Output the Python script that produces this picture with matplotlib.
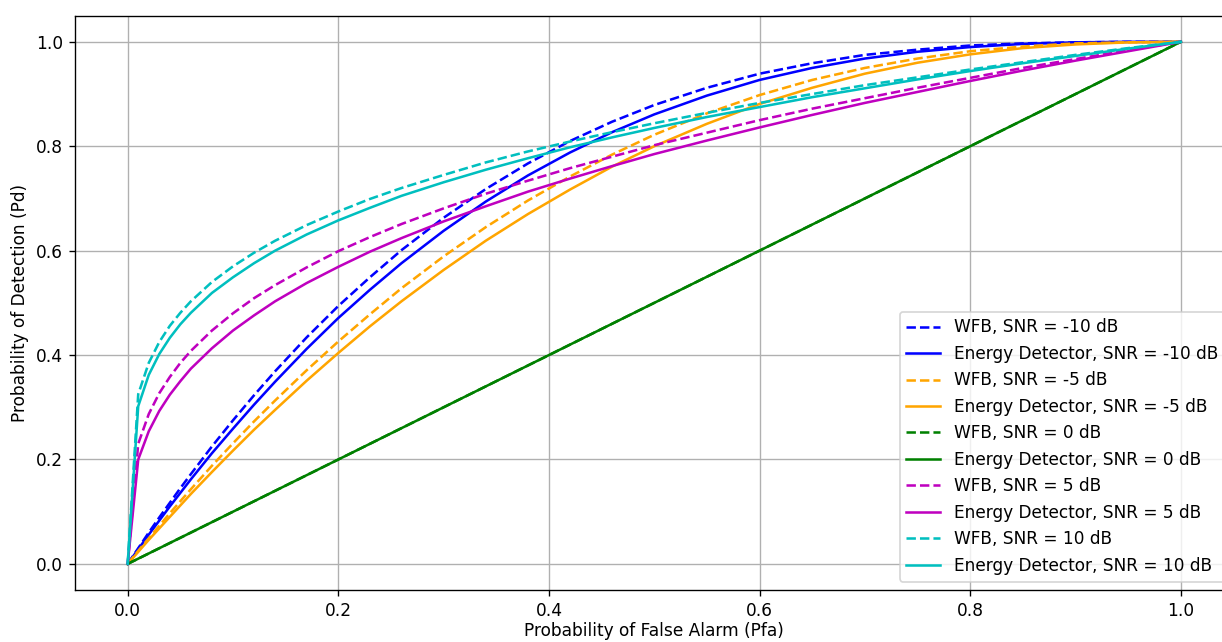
import matplotlib
matplotlib.use("Agg")
import matplotlib.pyplot as plt

# Probability of false alarm grid (x axis)
pfa = [0.0, 0.01, 0.02, 0.03, 0.04, 0.05, 0.06, 0.08, 0.10, 0.12, 0.14, 0.17, 0.20,
       0.23, 0.26, 0.30, 0.34, 0.38, 0.42, 0.46, 0.50, 0.55, 0.60, 0.65, 0.70,
       0.75, 0.80, 0.85, 0.90, 0.95, 1.0]

snr_labels = ["-10", "-5", "0", "5", "10"]
colors = ["blue", "orange", "green", "m", "c"]

# WFB detector, Pd per SNR
wfb_m10 = [0.0, 0.030, 0.060, 0.089, 0.117, 0.145, 0.172, 0.225, 0.275, 0.323, 0.369, 0.434, 0.494,
           0.549, 0.601, 0.663, 0.718, 0.767, 0.810, 0.847, 0.879, 0.912, 0.939, 0.959, 0.975,
           0.985, 0.993, 0.997, 0.999, 1.0, 1.0]
wfb_m5 = [0.0, 0.025, 0.049, 0.073, 0.097, 0.120, 0.143, 0.188, 0.231, 0.273, 0.313, 0.371, 0.426,
          0.478, 0.528, 0.589, 0.645, 0.696, 0.742, 0.784, 0.822, 0.863, 0.898, 0.927, 0.950,
          0.968, 0.982, 0.991, 0.997, 0.999, 1.0]
wfb_0 = [0.0, 0.01, 0.02, 0.03, 0.04, 0.05, 0.06, 0.08, 0.10, 0.12, 0.14, 0.17, 0.20,
         0.23, 0.26, 0.30, 0.34, 0.38, 0.42, 0.46, 0.50, 0.55, 0.60, 0.65, 0.70,
         0.75, 0.80, 0.85, 0.90, 0.95, 1.0]
wfb_5 = [0.0, 0.230, 0.287, 0.327, 0.358, 0.385, 0.408, 0.447, 0.480, 0.509, 0.534, 0.568, 0.599,
         0.626, 0.651, 0.681, 0.709, 0.734, 0.758, 0.780, 0.802, 0.826, 0.850, 0.872, 0.892,
         0.912, 0.931, 0.950, 0.967, 0.984, 1.0]
wfb_10 = [0.0, 0.325, 0.385, 0.425, 0.456, 0.481, 0.503, 0.540, 0.570, 0.596, 0.619, 0.649, 0.675,
          0.699, 0.720, 0.745, 0.769, 0.790, 0.809, 0.827, 0.844, 0.864, 0.883, 0.900, 0.917,
          0.932, 0.947, 0.961, 0.975, 0.988, 1.0]

# Energy detector, Pd per SNR
ed_m10 = [0.0, 0.028, 0.056, 0.083, 0.110, 0.136, 0.162, 0.212, 0.259, 0.305, 0.349, 0.412, 0.471,
          0.525, 0.576, 0.638, 0.694, 0.744, 0.788, 0.827, 0.861, 0.897, 0.927, 0.950, 0.968,
          0.981, 0.990, 0.996, 0.999, 1.0, 1.0]
ed_m5 = [0.0, 0.023, 0.046, 0.068, 0.090, 0.112, 0.134, 0.176, 0.217, 0.257, 0.295, 0.351, 0.404,
         0.455, 0.503, 0.563, 0.619, 0.670, 0.717, 0.761, 0.800, 0.843, 0.881, 0.912, 0.939,
         0.960, 0.976, 0.988, 0.995, 0.999, 1.0]
ed_0 = [0.0, 0.01, 0.02, 0.03, 0.04, 0.05, 0.06, 0.08, 0.10, 0.12, 0.14, 0.17, 0.20,
        0.23, 0.26, 0.30, 0.34, 0.38, 0.42, 0.46, 0.50, 0.55, 0.60, 0.65, 0.70,
        0.75, 0.80, 0.85, 0.90, 0.95, 1.0]
ed_5 = [0.0, 0.200, 0.254, 0.293, 0.324, 0.350, 0.374, 0.413, 0.447, 0.476, 0.503, 0.538, 0.569,
        0.598, 0.624, 0.656, 0.685, 0.713, 0.738, 0.762, 0.785, 0.811, 0.836, 0.860, 0.883,
        0.904, 0.925, 0.945, 0.964, 0.982, 1.0]
ed_10 = [0.0, 0.302, 0.362, 0.402, 0.433, 0.459, 0.481, 0.519, 0.549, 0.576, 0.600, 0.631, 0.658,
         0.682, 0.705, 0.731, 0.755, 0.777, 0.798, 0.817, 0.835, 0.856, 0.875, 0.894, 0.911,
         0.928, 0.944, 0.959, 0.973, 0.987, 1.0]

wfb = [wfb_m10, wfb_m5, wfb_0, wfb_5, wfb_10]
ed = [ed_m10, ed_m5, ed_0, ed_5, ed_10]

DPI = 122
fig = plt.figure(figsize=(1222 / DPI, 642 / DPI), dpi=DPI)
ax = fig.add_axes([0.0614, 0.081, 0.948, 0.8945])

for lab, col, yw, ye in zip(snr_labels, colors, wfb, ed):
    ax.plot(pfa, yw, "--", color=col, label=f"WFB, SNR = {lab} dB")
    ax.plot(pfa, ye, "-", color=col, label=f"Energy Detector, SNR = {lab} dB")

ax.set_xlabel("Probability of False Alarm (Pfa)", labelpad=1.5)
ax.set_ylabel("Probability of Detection (Pd)")
ax.grid(True)
ax.legend(loc="lower right")

fig.savefig("out.png", dpi=DPI)
